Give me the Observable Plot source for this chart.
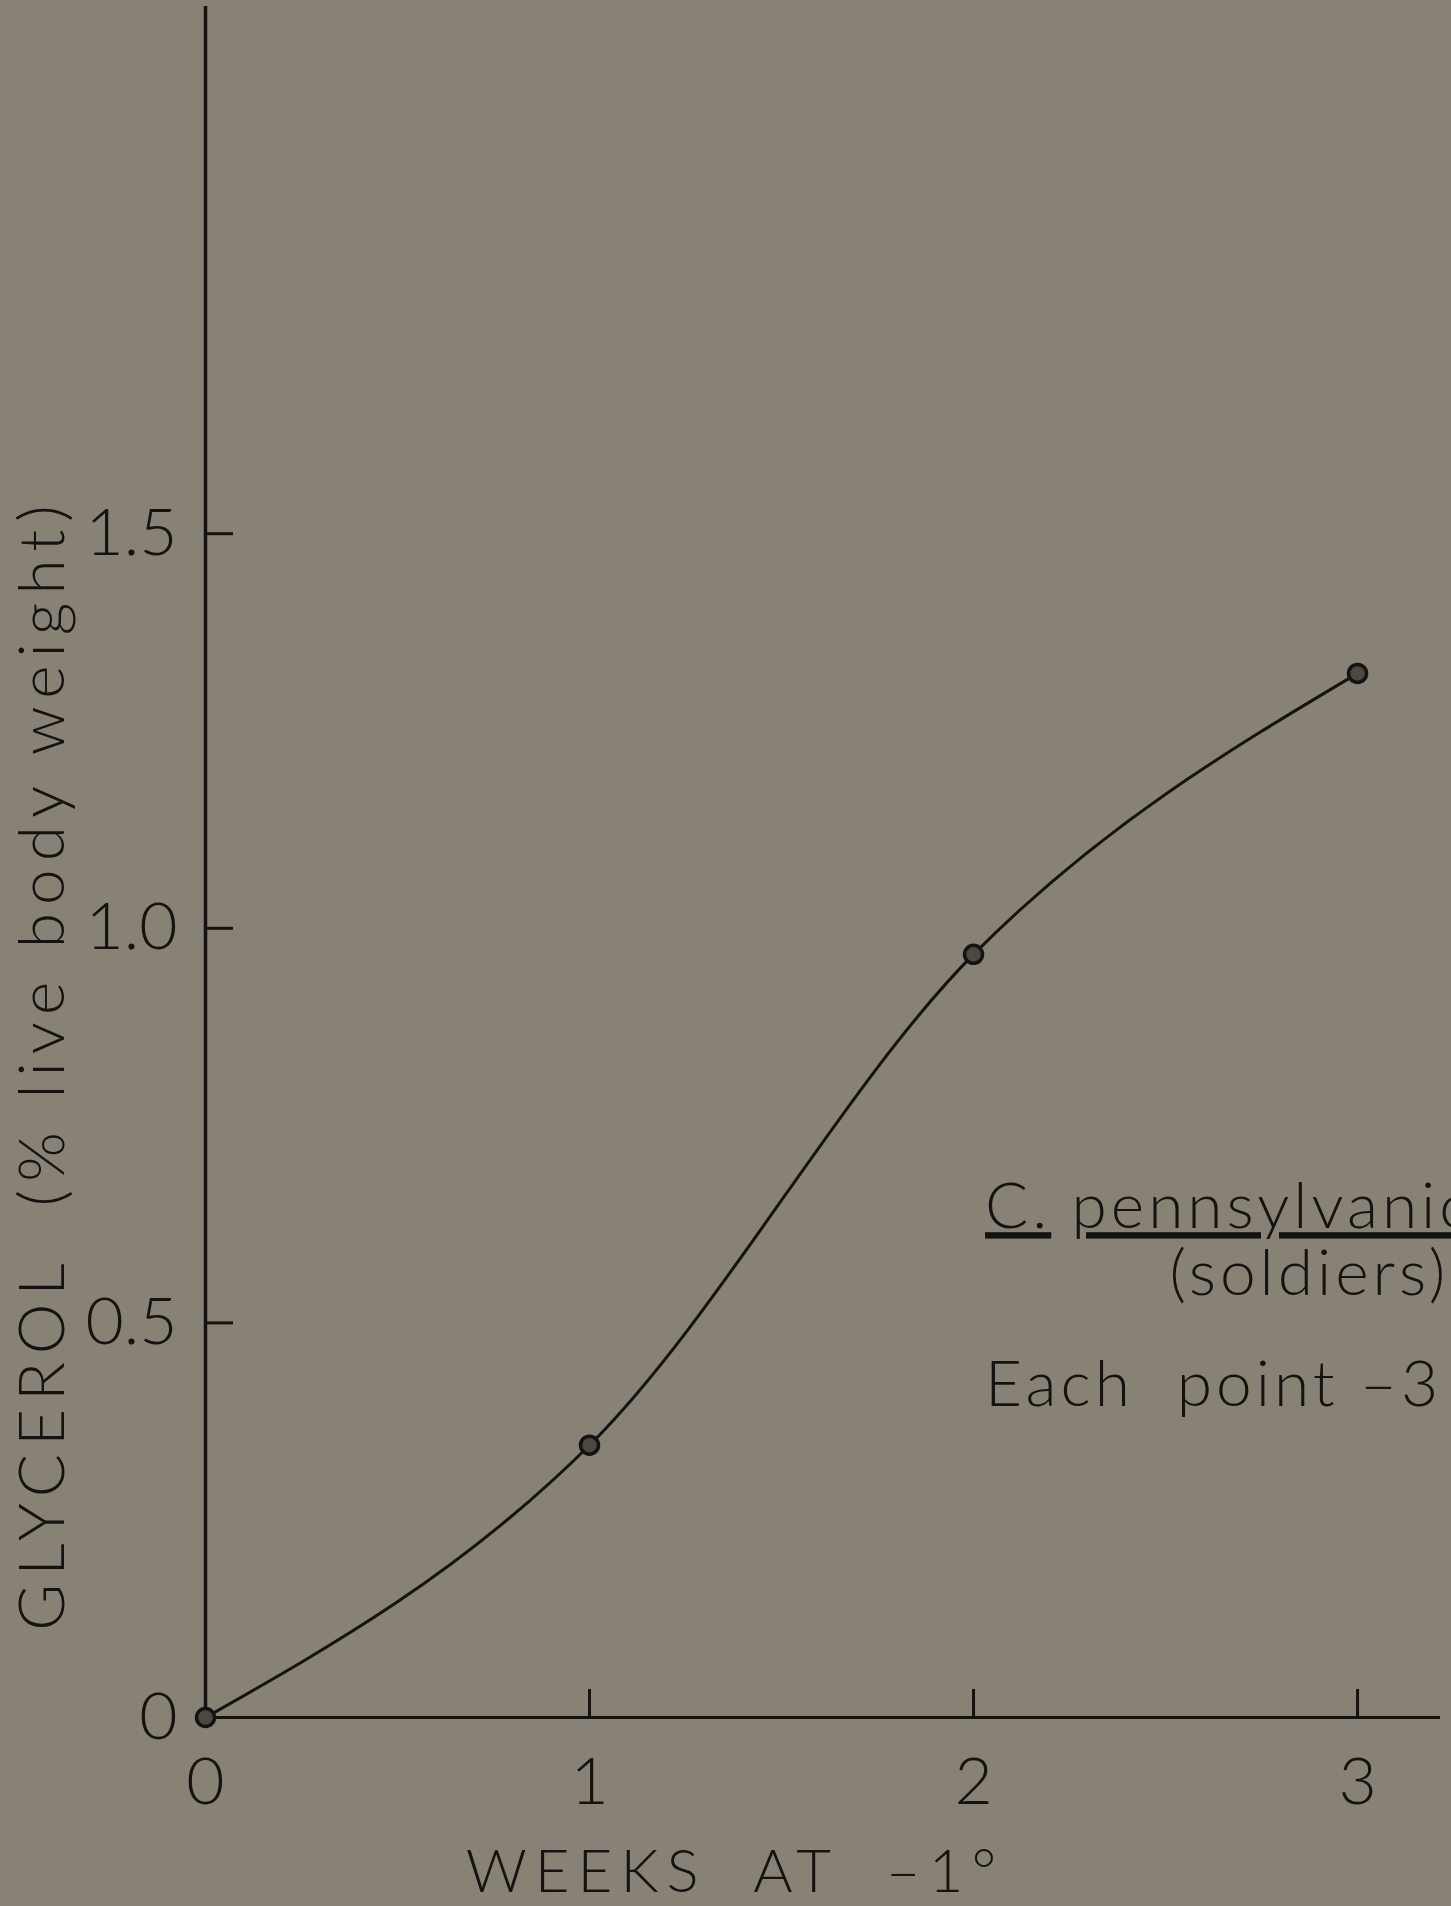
<!DOCTYPE html>
<html>
<head>
<meta charset="utf-8">
<script src="https://cdn.jsdelivr.net/npm/d3@7"></script>
<script src="https://cdn.jsdelivr.net/npm/@observablehq/plot@0.6"></script>
<style>
  html, body { margin: 0; padding: 0; background: #878275; overflow: hidden; }
  #chart svg { display: block; }
</style>
</head>
<body>
<div id="chart"></div>
<script>
// ---- data ----
const weeks = [0, 1, 2, 3];
const glycerol = [0, 0.345, 0.967, 1.323];

const xTicks = [0, 1, 2, 3];
const xTickLabels = ["0", "1", "2", "3"];
const yTicks = [0, 0.5, 1, 1.5];
const yTickLabels = ["0", "0.5", "1.0", "1.5"];

const xTitle = "WEEKS  AT  \u20131\u00b0";
const yTitle = "GLYCEROL  (% live body weight)";

const noteText = ["C.", "pennsylvanica", "(soldiers)", "Each  point \u20133"];
const noteX = [2.03, 2.255, 2.51, 2.03];
const noteY = [0.62, 0.62, 0.535, 0.395];
const noteUnderline = [true, true, false, false];

// ---- build ----
const points = weeks.map((w, i) => ({week: w, value: glycerol[i]}));
const notes = noteText.map((t, i) => ({text: t, x: noteX[i], y: noteY[i], u: noteUnderline[i]}));

const ink = "#141311";
const font = "Lato, 'Open Sans', 'DejaVu Sans', sans-serif";

const chart = Plot.plot({
  width: 1451,
  height: 1906,
  marginLeft: 205,
  marginRight: 11,
  marginTop: 6,
  marginBottom: 189,
  style: {background: "#878275", color: ink, fontFamily: font, fontWeight: 300},
  x: {domain: [0, 3.216]},
  y: {domain: [0, 2.168]},
  marks: [
    // inward tick marks
    Plot.axisX({ticks: xTicks.slice(1), tickSize: -28, strokeWidth: 3, tickFormat: () => "", label: null}),
    Plot.axisY({ticks: yTicks.slice(1), tickSize: -28, strokeWidth: 3, tickFormat: () => "", label: null}),
    // tick labels
    Plot.axisX({ticks: xTicks, tickSize: 0, tickPadding: 40, fontSize: 66, fontWeight: 300,
      tickFormat: d => xTickLabels[xTicks.indexOf(d)], label: null, lineAnchor: "top"}),
    Plot.axisY({ticks: yTicks, tickSize: 0, tickPadding: 28, fontSize: 66, fontWeight: 300,
      tickFormat: d => yTickLabels[yTicks.indexOf(d)], label: null}),
    // axis lines
    Plot.ruleX([0], {stroke: ink, strokeWidth: 3.5}),
    Plot.ruleY([0], {stroke: ink, strokeWidth: 3}),
    // curve + points
    Plot.line(points, {x: "week", y: "value", curve: "monotone-x", stroke: ink, strokeWidth: 3}),
    Plot.dot(points, {x: "week", y: "value", r: 9, fill: "#4b4842", stroke: ink, strokeWidth: 3.5}),
    // axis titles
    Plot.text([xTitle], {frameAnchor: "bottom", textAnchor: "middle", dx: -88, dy: 155, fontSize: 60, fontWeight: 300,
      fill: ink, lineAnchor: "middle", className: "xtitle"}),
    Plot.text([yTitle], {frameAnchor: "left", textAnchor: "middle", dx: -162, dy: 202, rotate: -90, fontSize: 64, fontWeight: 300,
      fill: ink, lineAnchor: "middle", className: "ytitle"}),
    // annotation
    Plot.text(notes, {x: "x", y: "y", text: "text", textAnchor: "start", lineAnchor: "bottom",
      fontSize: 64, fontWeight: 300, fill: ink, className: "note"})
  ]
});

// lettering spacing like the hand-drawn original
const svg = d3.select(chart);
svg.selectAll(".xtitle text").style("letter-spacing", "8px");
svg.selectAll(".ytitle text").style("letter-spacing", "8px");
svg.selectAll(".note text").style("letter-spacing", "4px");
// underline species name
svg.selectAll(".note text").each(function(d) {
  if (notes[d] && notes[d].u) d3.select(this).attr("text-decoration", "underline");
});
document.getElementById("chart").appendChild(chart);
</script>
</body>
</html>
